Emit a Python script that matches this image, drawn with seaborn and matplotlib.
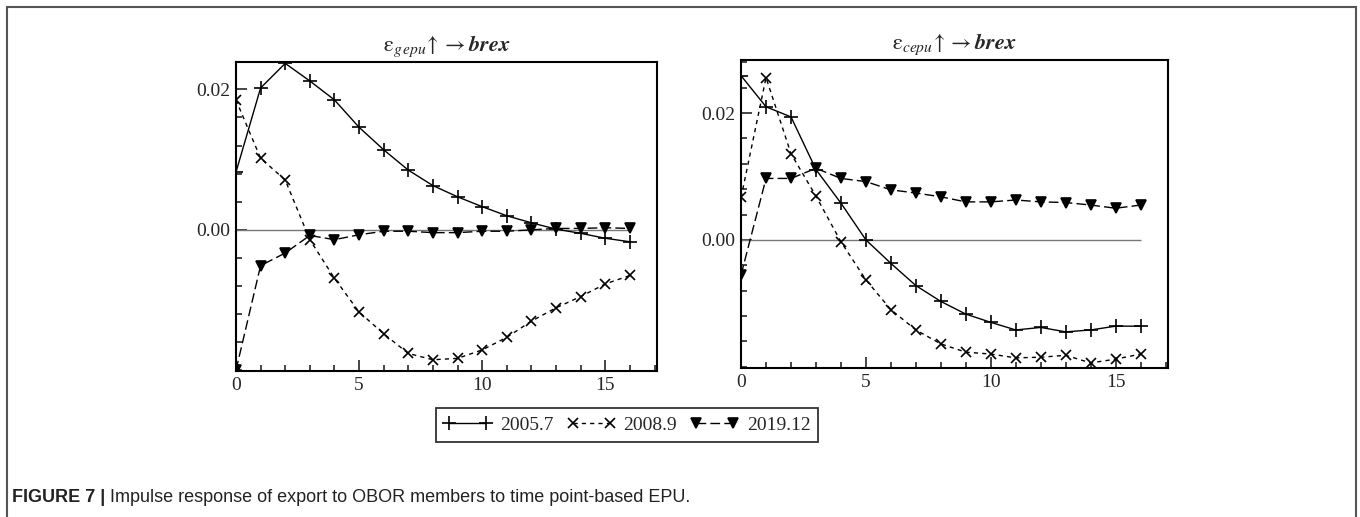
import matplotlib
import matplotlib.pyplot as plt
import pandas as pd
import seaborn as sns
from matplotlib.patches import Rectangle
from matplotlib.ticker import FixedLocator, FormatStrFormatter, MultipleLocator

matplotlib.use("Agg")

# horizon (periods after the shock)
PERIODS = list(range(17))
SERIES = ["2005.7", "2008.9", "2019.12"]

# response of brex to a gepu shock
GEPU_2005_7 = [0.0082, 0.0202, 0.0237, 0.0212, 0.0185, 0.0146, 0.0114, 0.0085, 0.0063,
               0.0047, 0.0033, 0.0020, 0.0010, 0.0001, -0.0005, -0.0012, -0.0017]
GEPU_2008_9 = [0.0185, 0.0102, 0.0071, -0.0014, -0.0069, -0.0117, -0.0148, -0.0176, -0.0185,
               -0.0183, -0.0171, -0.0153, -0.0130, -0.0111, -0.0095, -0.0077, -0.0065]
GEPU_2019_12 = [-0.0200, -0.0051, -0.0033, -0.0008, -0.0014, -0.0007, -0.0002, -0.0002, -0.0004,
                -0.0004, -0.0002, -0.0002, 0.0000, 0.0002, 0.0002, 0.0003, 0.0002]

# response of brex to a cepu shock
CEPU_2005_7 = [0.0259, 0.0210, 0.0194, 0.0111, 0.0058, 0.0000, -0.0037, -0.0072, -0.0097,
               -0.0117, -0.0130, -0.0142, -0.0138, -0.0145, -0.0142, -0.0136, -0.0136]
CEPU_2008_9 = [0.0067, 0.0256, 0.0136, 0.0069, -0.0003, -0.0063, -0.0110, -0.0142, -0.0164,
               -0.0177, -0.0180, -0.0186, -0.0185, -0.0182, -0.0194, -0.0188, -0.0180]
CEPU_2019_12 = [-0.0055, 0.0097, 0.0097, 0.0113, 0.0097, 0.0092, 0.0079, 0.0074, 0.0068,
                0.0060, 0.0060, 0.0063, 0.0060, 0.0059, 0.0055, 0.0050, 0.0055]

TITLES = [r"$\mathrm{\varepsilon}_{g\,epu}\!\uparrow \rightarrow \mathbfit{brex}$",
          r"$\mathrm{\varepsilon}_{cepu}\!\uparrow \rightarrow \mathbfit{brex}$"]
CAPTION_BOLD = "FIGURE 7 |"
CAPTION_TEXT = " Impulse response of export to OBOR members to time point-based EPU."

STYLES = {
    "2005.7": dict(marker="+", linestyle="-", markersize=10),
    "2008.9": dict(marker="x", linestyle=(0, (3, 3)), markersize=7),
    "2019.12": dict(marker="v", linestyle=(0, (7, 3)), markersize=6.5),
}

sns.set_style("ticks")
plt.rcParams["font.family"] = ["Liberation Serif", "DejaVu Serif"]
plt.rcParams["mathtext.fontset"] = "stix"


def make_frame(responses):
    frames = []
    for name, values in zip(SERIES, responses):
        frames.append(pd.DataFrame({"period": PERIODS, "response": values, "series": name}))
    return pd.concat(frames, ignore_index=True)


def draw_panel(ax, df, title, ylim):
    ax.hlines(0, df["period"].min(), df["period"].max(), color="#777777", lw=1, zorder=1)
    for name in SERIES:
        sub = df[df["series"] == name]
        sns.lineplot(data=sub, x="period", y="response", ax=ax, color="black", lw=1,
                     markeredgecolor="black", markerfacecolor="black",
                     markeredgewidth=1.2, label=name, **STYLES[name])
    ax.get_legend().remove()
    ax.set_xlim(0, 17.1)
    ax.set_ylim(*ylim)
    ax.set_xlabel("")
    ax.set_ylabel("")
    ax.set_title(title, fontsize=16, pad=8)
    ax.xaxis.set_major_locator(MultipleLocator(5))
    ax.xaxis.set_minor_locator(MultipleLocator(1))
    ax.yaxis.set_major_locator(FixedLocator([0.0, 0.02]))
    ax.yaxis.set_minor_locator(MultipleLocator(0.004))
    ax.yaxis.set_major_formatter(FormatStrFormatter("%.2f"))
    ax.tick_params(which="major", direction="in", length=8, width=1.2, labelsize=14, pad=4)
    ax.tick_params(which="minor", direction="in", length=4, width=1.2)
    for spine in ax.spines.values():
        spine.set_visible(True)
        spine.set_linewidth(1.5)
        spine.set_color("black")


fig = plt.figure(figsize=(13.6, 5.17), dpi=100)
ax_left = fig.add_axes([0.1735, 0.2824, 0.3096, 0.5977])
ax_right = fig.add_axes([0.5449, 0.2882, 0.3140, 0.5960])

draw_panel(ax_left, make_frame([GEPU_2005_7, GEPU_2008_9, GEPU_2019_12]), TITLES[0], (-0.0201, 0.0239))
draw_panel(ax_right, make_frame([CEPU_2005_7, CEPU_2008_9, CEPU_2019_12]), TITLES[1], (-0.0202, 0.0284))

handles, labels = ax_left.get_legend_handles_labels()
leg = fig.legend(handles, labels, loc="center", bbox_to_anchor=(627 / 1360, 1 - 425 / 517),
                 ncol=3, fontsize=14, frameon=True, fancybox=False, edgecolor="black",
                 numpoints=2, handlelength=2.5, handletextpad=0.4, columnspacing=0.7,
                 borderpad=0.4)
leg.get_frame().set_linewidth(1.3)

# outer panel frame
fig.patches.append(Rectangle((7 / 1360, -0.01), (1356 - 7) / 1360, 0.9865 + 0.01,
                             transform=fig.transFigure, fill=False, edgecolor="#555555", lw=1.5))

# caption: bold label followed by plain text
renderer = fig.canvas.get_renderer()
bold = fig.text(12 / 1360, 1 - 498 / 517, CAPTION_BOLD, fontsize=13, fontweight="bold",
                family="Liberation Sans", va="center", color="#222222")
bbox = bold.get_window_extent(renderer=renderer)
fig.text(bbox.x1 / fig.bbox.width, 1 - 498 / 517, CAPTION_TEXT, fontsize=13,
         family="Liberation Sans", va="center", color="#222222")

fig.savefig("out.png", dpi=100)
